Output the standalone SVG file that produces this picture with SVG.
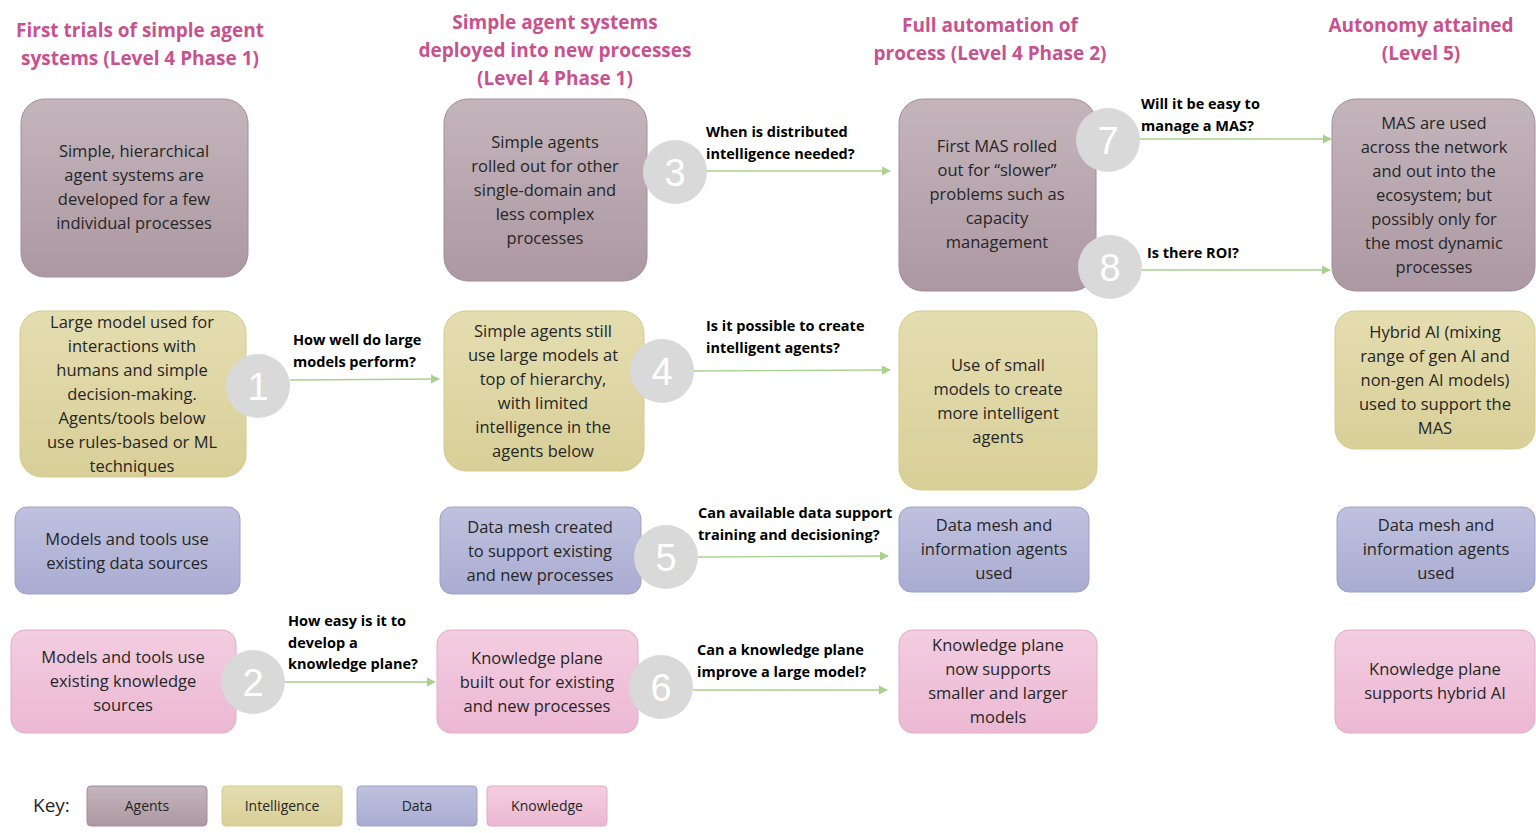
<svg xmlns="http://www.w3.org/2000/svg" width="1536" height="833" viewBox="0 0 1536 833">
<defs>
<linearGradient id="ga" x1="0" y1="0" x2="0" y2="1"><stop offset="0" stop-color="#c4b5bb"/><stop offset="1" stop-color="#ac98a2"/></linearGradient>
<linearGradient id="gi" x1="0" y1="0" x2="0" y2="1"><stop offset="0" stop-color="#e4ddb0"/><stop offset="1" stop-color="#d8cf98"/></linearGradient>
<linearGradient id="gd" x1="0" y1="0" x2="0" y2="1"><stop offset="0" stop-color="#bfc1de"/><stop offset="1" stop-color="#a9acd2"/></linearGradient>
<linearGradient id="gk" x1="0" y1="0" x2="0" y2="1"><stop offset="0" stop-color="#f3cde0"/><stop offset="1" stop-color="#ecb8d3"/></linearGradient>
<marker id="ar" viewBox="0 0 10 10" refX="9" refY="5" markerWidth="7" markerHeight="7" orient="auto"><path d="M0,0L10,5L0,10z" fill="#a9d18e"/></marker>
</defs>
<style>
.a{fill:url(#ga);stroke:#a38d99;stroke-width:1}
.i{fill:url(#gi);stroke:#d3cb8c;stroke-width:1}
.d{fill:url(#gd);stroke:#9ea2c8;stroke-width:1}
.k{fill:url(#gk);stroke:#e2abc8;stroke-width:1}
text{font-family:"Open Sans","Liberation Sans",sans-serif;fill:#262626}
.t{font-size:16.5px;text-anchor:middle}
.h{font-size:19px;font-weight:bold;fill:#c8528e;text-anchor:middle}
.q{font-size:14.5px;font-weight:bold;fill:#000}
.c{fill:#d9d9d9}
.n{font-size:38px;fill:#fff;text-anchor:middle;font-family:"Liberation Sans",sans-serif}
.kt{font-size:14px;text-anchor:middle}
.ln{stroke:#a9d18e;stroke-width:1.3;fill:none;marker-end:url(#ar)}
</style>
<rect width="1536" height="833" fill="#fff"/>
<g id="titles">
<text class="h" x="140" y="37">First trials of simple agent</text><text class="h" x="140" y="65">systems (Level 4 Phase 1)</text>
<text class="h" x="555" y="29">Simple agent systems</text><text class="h" x="555" y="57">deployed into new processes</text><text class="h" x="555" y="85">(Level 4 Phase 1)</text>
<text class="h" x="990" y="32">Full automation of</text><text class="h" x="990" y="60">process (Level 4 Phase 2)</text>
<text class="h" x="1421" y="32">Autonomy attained</text><text class="h" x="1421" y="60">(Level 5)</text>
</g>
<g id="n-a1"><rect class="a" x="21" y="99" width="227" height="178" rx="24"/><text class="t" x="134" y="157">Simple, hierarchical</text><text class="t" x="134" y="181">agent systems are</text><text class="t" x="134" y="205">developed for a few</text><text class="t" x="134" y="229">individual processes</text></g>
<g id="n-i1"><rect class="i" x="20" y="311" width="226" height="166" rx="22"/><text class="t" x="132" y="328">Large model used for</text><text class="t" x="132" y="352">interactions with</text><text class="t" x="132" y="376">humans and simple</text><text class="t" x="132" y="400">decision-making.</text><text class="t" x="132" y="424">Agents/tools below</text><text class="t" x="132" y="448">use rules-based or ML</text><text class="t" x="132" y="472">techniques</text></g>
<g id="n-d1"><rect class="d" x="15" y="507" width="225" height="87" rx="12"/><text class="t" x="127" y="545">Models and tools use</text><text class="t" x="127" y="569">existing data sources</text></g>
<g id="n-k1"><rect class="k" x="11" y="630" width="225" height="103" rx="14"/><text class="t" x="123" y="663">Models and tools use</text><text class="t" x="123" y="687">existing knowledge</text><text class="t" x="123" y="711">sources</text></g>
<g id="n-a2"><rect class="a" x="444" y="99" width="203" height="182" rx="24"/><text class="t" x="545" y="148">Simple agents</text><text class="t" x="545" y="172">rolled out for other</text><text class="t" x="545" y="196">single-domain and</text><text class="t" x="545" y="220">less complex</text><text class="t" x="545" y="244">processes</text></g>
<g id="n-i2"><rect class="i" x="444" y="311" width="200" height="160" rx="22"/><text class="t" x="543" y="337">Simple agents still</text><text class="t" x="543" y="361">use large models at</text><text class="t" x="543" y="385">top of hierarchy,</text><text class="t" x="543" y="409">with limited</text><text class="t" x="543" y="433">intelligence in the</text><text class="t" x="543" y="457">agents below</text></g>
<g id="n-d2"><rect class="d" x="440" y="507" width="201" height="87" rx="12"/><text class="t" x="540" y="533">Data mesh created</text><text class="t" x="540" y="557">to support existing</text><text class="t" x="540" y="581">and new processes</text></g>
<g id="n-k2"><rect class="k" x="437" y="630" width="201" height="103" rx="14"/><text class="t" x="537" y="664">Knowledge plane</text><text class="t" x="537" y="688">built out for existing</text><text class="t" x="537" y="712">and new processes</text></g>
<g id="n-a3"><rect class="a" x="899" y="99" width="197" height="192" rx="24"/><text class="t" x="997" y="152">First MAS rolled</text><text class="t" x="997" y="176">out for “slower”</text><text class="t" x="997" y="200">problems such as</text><text class="t" x="997" y="224">capacity</text><text class="t" x="997" y="248">management</text></g>
<g id="n-i3"><rect class="i" x="899" y="311" width="198" height="179" rx="22"/><text class="t" x="998" y="371">Use of small</text><text class="t" x="998" y="395">models to create</text><text class="t" x="998" y="419">more intelligent</text><text class="t" x="998" y="443">agents</text></g>
<g id="n-d3"><rect class="d" x="899" y="507" width="190" height="85" rx="12"/><text class="t" x="994" y="531">Data mesh and</text><text class="t" x="994" y="555">information agents</text><text class="t" x="994" y="579">used</text></g>
<g id="n-k3"><rect class="k" x="899" y="630" width="198" height="103" rx="14"/><text class="t" x="998" y="651">Knowledge plane</text><text class="t" x="998" y="675">now supports</text><text class="t" x="998" y="699">smaller and larger</text><text class="t" x="998" y="723">models</text></g>
<g id="n-a4"><rect class="a" x="1332" y="99" width="203" height="192" rx="24"/><text class="t" x="1434" y="129">MAS are used</text><text class="t" x="1434" y="153">across the network</text><text class="t" x="1434" y="177">and out into the</text><text class="t" x="1434" y="201">ecosystem; but</text><text class="t" x="1434" y="225">possibly only for</text><text class="t" x="1434" y="249">the most dynamic</text><text class="t" x="1434" y="273">processes</text></g>
<g id="n-i4"><rect class="i" x="1335" y="311" width="200" height="138" rx="20"/><text class="t" x="1435" y="338">Hybrid AI (mixing</text><text class="t" x="1435" y="362">range of gen AI and</text><text class="t" x="1435" y="386">non-gen AI models)</text><text class="t" x="1435" y="410">used to support the</text><text class="t" x="1435" y="434">MAS</text></g>
<g id="n-d4"><rect class="d" x="1337" y="507" width="198" height="85" rx="12"/><text class="t" x="1436" y="531">Data mesh and</text><text class="t" x="1436" y="555">information agents</text><text class="t" x="1436" y="579">used</text></g>
<g id="n-k4"><rect class="k" x="1335" y="630" width="200" height="103" rx="14"/><text class="t" x="1435" y="675">Knowledge plane</text><text class="t" x="1435" y="699">supports hybrid AI</text></g>
<g id="connectors">
<line class="ln" x1="290" y1="380" x2="439" y2="379"/>
<line class="ln" x1="285" y1="682" x2="435" y2="682"/>
<line class="ln" x1="705" y1="171" x2="890" y2="171"/>
<line class="ln" x1="694" y1="371" x2="890" y2="370"/>
<line class="ln" x1="698" y1="557" x2="888" y2="556"/>
<line class="ln" x1="693" y1="690" x2="887" y2="690"/>
<line class="ln" x1="1140" y1="139" x2="1331" y2="139"/>
<line class="ln" x1="1142" y1="270" x2="1330" y2="270"/>
<text class="q" x="293" y="345">How well do large</text><text class="q" x="293" y="367">models perform?</text>
<text class="q" x="288" y="626">How easy is it to</text><text class="q" x="288" y="648">develop a</text><text class="q" x="288" y="669">knowledge plane?</text>
<text class="q" x="706" y="137">When is distributed</text><text class="q" x="706" y="159">intelligence needed?</text>
<text class="q" x="706" y="331">Is it possible to create</text><text class="q" x="706" y="353">intelligent agents?</text>
<text class="q" x="698" y="518">Can available data support</text><text class="q" x="698" y="540">training and decisioning?</text>
<text class="q" x="697" y="655">Can a knowledge plane</text><text class="q" x="697" y="677">improve a large model?</text>
<text class="q" x="1141" y="109">Will it be easy to</text><text class="q" x="1141" y="131">manage a MAS?</text>
<text class="q" x="1147" y="258">Is there ROI?</text>
</g>
<g id="badges">
<circle class="c" cx="258" cy="386" r="32"/><text class="n" x="258" y="400">1</text>
<circle class="c" cx="253" cy="682" r="32"/><text class="n" x="253" y="696">2</text>
<circle class="c" cx="675" cy="172" r="32"/><text class="n" x="675" y="186">3</text>
<circle class="c" cx="662" cy="371" r="32"/><text class="n" x="662" y="385">4</text>
<circle class="c" cx="666" cy="557" r="32"/><text class="n" x="666" y="571">5</text>
<circle class="c" cx="661" cy="687" r="32"/><text class="n" x="661" y="701">6</text>
<circle class="c" cx="1108" cy="140" r="32"/><text class="n" x="1108" y="154">7</text>
<circle class="c" cx="1110" cy="267" r="32"/><text class="n" x="1110" y="281">8</text>
</g>
<g id="key">
<text x="33" y="812" style="font-size:19px">Key:</text>
<rect class="a" x="87" y="786" width="120" height="40" rx="4"/><text class="kt" x="147" y="811">Agents</text>
<rect class="i" x="222" y="786" width="120" height="40" rx="4"/><text class="kt" x="282" y="811">Intelligence</text>
<rect class="d" x="357" y="786" width="120" height="40" rx="4"/><text class="kt" x="417" y="811">Data</text>
<rect class="k" x="487" y="786" width="120" height="40" rx="4"/><text class="kt" x="547" y="811">Knowledge</text>
</g>
</svg>
